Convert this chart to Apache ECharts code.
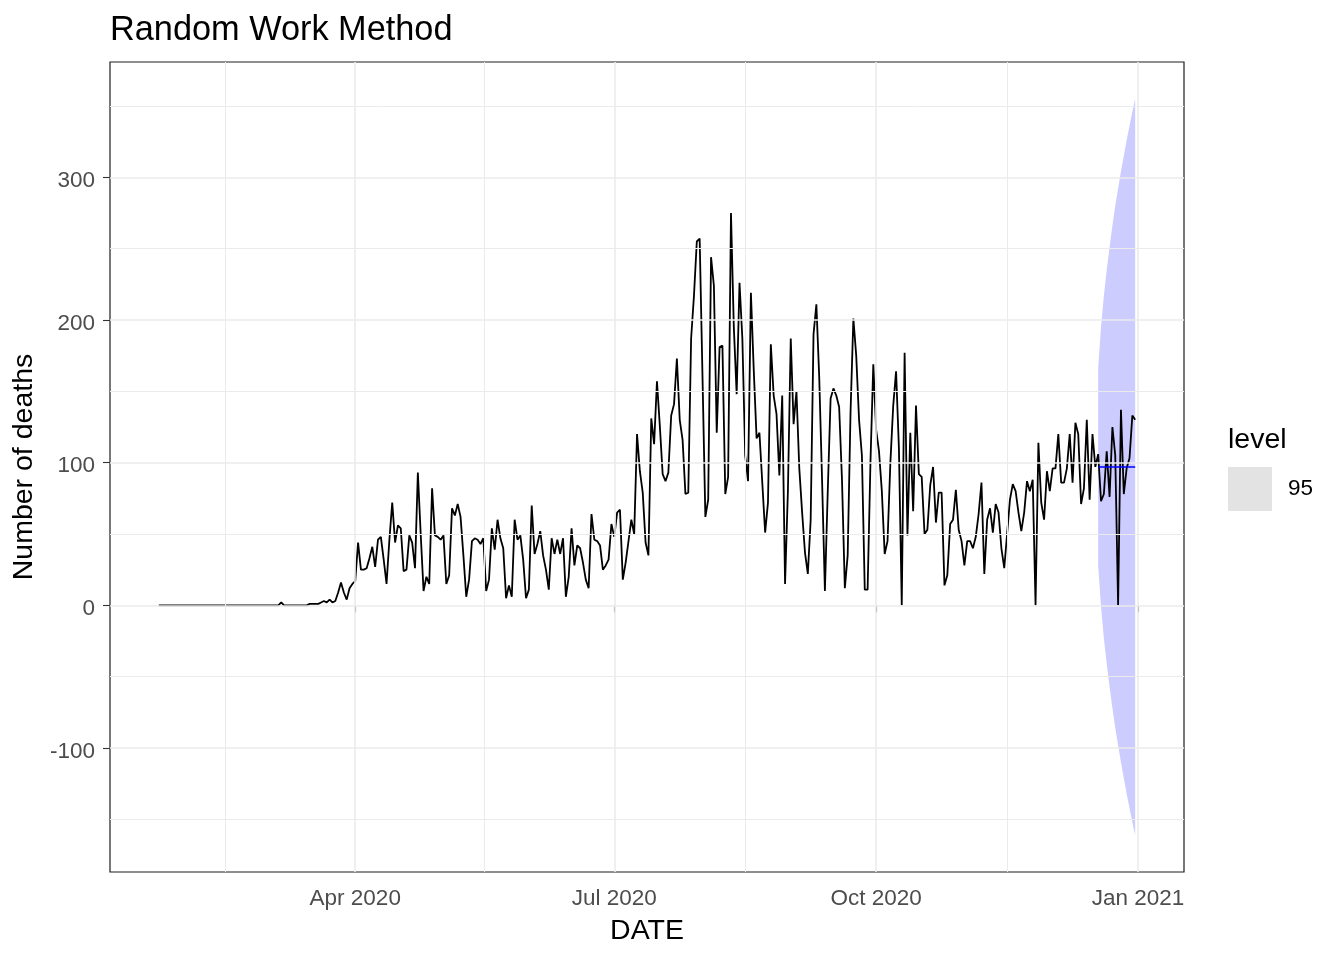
<!DOCTYPE html>
<html>
<head>
<meta charset="utf-8">
<script src="https://cdn.jsdelivr.net/npm/echarts@6/dist/echarts.min.js"></script>
<style>
html,body{margin:0;padding:0;background:#fff;}
#chart{width:1344px;height:960px;}
</style>
</head>
<body>
<div id="chart"></div>
<script>
// ---------------- data ----------------
const startDate = '2020-01-23';   // first daily observation
const deaths = [
  0,0,0,0,0,0,0,0,0,0, 0,0,0,0,0,0,0,0,0,0, 0,0,0,0,0,0,0,0,0,0, 0,0,0,0,0,0,0,0,0,0, 0,0,0,
  2, 0,0,0,0,0,0,0,0,0,
  1,1,1,1,2,3,2,4,2,3,9,16,9,4,12,15,17,
  44,25,25,26,33,41,27,46,48,32,
  15,46,72,44,56,54,24,25,49,44,
  26,93,50,10,20,15,82,49,48,46,
  49,15,21,68,63,71,62,35,6,18,
  45,47,46,43,47,10,18,54,39,60,
  47,40,5,14,6,60,46,49,32,5,
  11,70,36,43,52,35,25,11,47,36,
  46,36,47,6,20,54,28,42,40,30,
  18,12,64,46,45,42,25,28,32,57,
  48,65,67,18,30,45,60,50,120,94,
  79,44,35,131,113,157,126,92,87,93,
  133,141,173,130,116,78,79,187,217,255,
  257,160,62,74,244,224,121,181,182,78,
  90,275,195,148,226,187,105,87,219,165,
  117,121,86,51,72,183,147,134,91,147,
  15,80,187,127,150,96,65,37,22,60,
  190,211,160,88,10,80,145,152,147,139,
  88,12,35,135,201,175,130,105,11,11,
  100,169,123,108,80,36,45,100,140,164,
  110,0,177,49,121,66,140,92,90,50,
  53,84,97,58,79,79,14,21,57,60,
  81,53,45,28,45,45,40,48,64,86,
  22,60,68,51,71,65,40,26,50,74,
  85,80,65,52,65,87,80,88,0,114,
  72,60,94,80,96,96,120,86,86,96,
  120,86,128,120,71,82,130,74,120,97,
  106,73,78,108,76,125,105,0,137,78,
  96,103,133,130
];

const forecastStart = '2020-12-18';
const forecastMean = [97,97,97,97,97,97,97,97,97,97,97,97,97,97];
const upper95 = [166,195,217,235,251,266,280,292,304,315,326,336,346,355];
const lower95 = [28,-1,-23,-41,-57,-72,-86,-98,-110,-121,-132,-142,-152,-161];
const levelName = '95';

const xTickDates  = ['2020-04-01','2020-07-01','2020-10-01','2021-01-01'];
const xTickLabels = ['Apr 2020','Jul 2020','Oct 2020','Jan 2021'];
const yTicks = [-100, 0, 100, 200, 300];

// ---------------- helpers ----------------
const DAY = 86400000;
const ts = s => Date.parse(s + 'T00:00:00Z');
const t0 = ts(startDate);
const tf = ts(forecastStart);

const lineData = deaths.map((v, i) => [t0 + i * DAY, v]);
const fcData = forecastMean.map((v, i) => [tf + i * DAY, v]);
const bandData = upper95.map((u, i) => [tf + i * DAY, lower95[i], u]);

const xTickVals = xTickDates.map(ts);
// ggplot-like expansion (5%) of the data range
const allT = lineData.map(d => d[0]).concat(fcData.map(d => d[0]));
const tMin = Math.min(...allT), tMax = Math.max(...allT);
const xMin = tMin - 0.05 * (tMax - tMin);
const xMax = tMax + 0.05 * (tMax - tMin);
const yMin = -186.9, yMax = 380.8;

// grid lines: majors at breaks, minors halfway between
const xMajExt = [ts('2020-01-01')].concat(xTickVals);
const xMinor = [];
for (let i = 0; i < xMajExt.length - 1; i++) xMinor.push((xMajExt[i] + xMajExt[i + 1]) / 2);
const yMinor = [-150, -50, 50, 150, 250, 350];

const FONT = 'Liberation Sans, Arial, sans-serif';
const GRID = '#EBEBEB';
const minorStyle = { type: 'solid', width: 1, color: GRID };
const majorStyle = { type: 'solid', width: 1.6, color: GRID };

const gridLines = []
  .concat(yMinor.map(v => ({ yAxis: v, lineStyle: minorStyle })))
  .concat(xMinor.filter(v => v > xMin && v < xMax).map(v => ({ xAxis: v, lineStyle: minorStyle })))
  .concat(yTicks.map(v => ({ yAxis: v, lineStyle: majorStyle })))
  .concat(xTickVals.map(v => ({ xAxis: v, lineStyle: majorStyle })));

const chart = echarts.init(document.getElementById('chart'), null, { renderer: 'canvas' });

chart.setOption({
  animation: false,
  backgroundColor: '#ffffff',
  title: [
    { text: 'Random Work Method', left: 110, top: 14, padding: 0,
      textStyle: { fontFamily: FONT, fontSize: 34.3, fontWeight: 'normal', color: '#000' } },
    { text: 'level', left: 1228, top: 426, padding: 0,
      textStyle: { fontFamily: FONT, fontSize: 28.5, fontWeight: 'normal', color: '#000' } }
  ],
  legend: {
    left: 1228, top: 467, padding: 0, orient: 'vertical',
    itemWidth: 44, itemHeight: 44, selectedMode: false,
    data: [{ name: levelName, icon: 'rect', itemStyle: { color: '#E3E3E3', borderWidth: 0 } }],
    textStyle: { fontFamily: FONT, fontSize: 22.5, color: '#000', padding: [0, 0, 0, 11] }
  },
  grid: {
    left: 110, top: 62, width: 1074, height: 810,
    show: true, backgroundColor: '#fff', borderColor: '#1f1f1f', borderWidth: 1.2
  },
  xAxis: {
    type: 'value', min: xMin, max: xMax,
    axisLine: { show: false },
    splitLine: { show: false },
    axisTick: { show: true, customValues: xTickVals, length: 7, lineStyle: { color: '#333', width: 1.1 } },
    axisLabel: {
      customValues: xTickVals, margin: 15, color: '#4D4D4D', fontSize: 22.5, fontFamily: FONT,
      formatter: v => { const i = xTickVals.indexOf(v); return i >= 0 ? xTickLabels[i] : ''; }
    },
    name: 'DATE', nameLocation: 'middle', nameGap: 45,
    nameTextStyle: { fontFamily: FONT, fontSize: 28.5, color: '#000' }
  },
  yAxis: {
    type: 'value', min: yMin, max: yMax,
    axisLine: { show: false },
    splitLine: { show: false },
    axisTick: { show: true, customValues: yTicks, length: 7, lineStyle: { color: '#333', width: 1.1 } },
    axisLabel: {
      customValues: yTicks, margin: 15,
      formatter: v => '{a|' + v + '}',
      rich: { a: { color: '#4D4D4D', fontSize: 22.5, fontFamily: FONT, padding: [7, 0, 0, 0] } }
    },
    name: 'Number of deaths', nameLocation: 'middle', nameGap: 61,
    nameTextStyle: { fontFamily: FONT, fontSize: 28.5, color: '#000' }
  },
  series: [
    {
      name: 'grid', type: 'line', data: [], z: 1, silent: true,
      markLine: { silent: true, symbol: ['none', 'none'], label: { show: false },
        lineStyle: { type: 'solid' },
        emphasis: { disabled: true }, animation: false, data: gridLines }
    },
    {
      name: levelName, type: 'custom', z: 2, silent: true,
      data: bandData,
      encode: { x: 0, y: [1, 2] },
      renderItem: function (params, api) {
        if (params.dataIndex !== 0) return null;
        const up = [], lo = [];
        for (let i = 0; i < bandData.length; i++) {
          up.push(api.coord([bandData[i][0], bandData[i][2]]));
          lo.push(api.coord([bandData[i][0], bandData[i][1]]));
        }
        return { type: 'polygon', shape: { points: up.concat(lo.reverse()) },
                 style: { fill: '#CCCCFF', stroke: null } };
      },
      itemStyle: { color: '#CCCCFF' }
    },
    {
      name: 'deaths', type: 'line', data: lineData, z: 3, showSymbol: false, symbol: 'none',
      lineStyle: { color: '#000', width: 1.8 }, itemStyle: { color: '#000' }, silent: true
    },
    {
      name: 'forecast', type: 'line', data: fcData, z: 4, showSymbol: false, symbol: 'none',
      lineStyle: { color: '#0000FF', width: 1.6 }, silent: true
    }
  ]
});
</script>
</body>
</html>
